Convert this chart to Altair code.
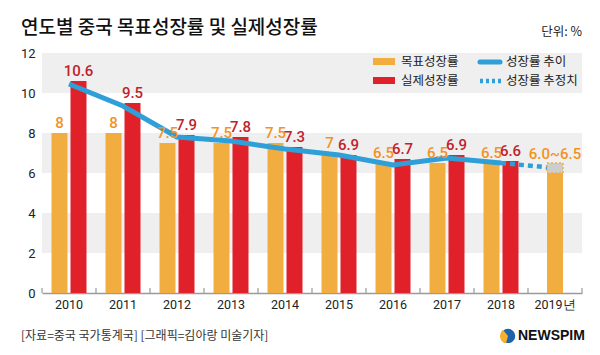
import altair as alt
import pandas as pd

# ---- data ----
years = ["2010", "2011", "2012", "2013", "2014", "2015", "2016", "2017", "2018", "2019년"]
target = [8, 8, 7.5, 7.5, 7.5, 7, 6.5, 6.5, 6.5]
target_labels = ["8", "8", "7.5", "7.5", "7.5", "7", "6.5", "6.5", "6.5"]
actual = [10.6, 9.5, 7.9, 7.8, 7.3, 6.9, 6.7, 6.9, 6.6]
actual_labels = ["10.6", "9.5", "7.9", "7.8", "7.3", "6.9", "6.7", "6.9", "6.6"]
target_2019_low = 6.0
target_2019_high = 6.5
target_2019_label = "6.0~6.5"
trend = [10.45, 9.35, 7.8, 7.6, 7.2, 6.9, 6.4, 6.75, 6.5]
trend_2019 = 6.25
band_lo = [2, 6, 10]
band_hi = [4, 8, 12]
y_ticks = [0, 2, 4, 6, 8, 10, 12]
series_names = ["목표성장률", "실제성장률"]

ORANGE = "#f2ad41"
RED = "#e02129"
ORANGE_TXT = "#f39223"
RED_TXT = "#c1222b"
BLUE = "#2f9fd8"
GRAY_BAND = "#efefef"
KFONT = "Noto Sans CJK KR"
NFONT = "Roboto"

W, H = 540, 240

# ---- tables ----
bars = pd.DataFrame({
    "year": years[:9] * 2,
    "series": [series_names[0]] * 9 + [series_names[1]] * 9,
    "value": target + actual,
    "label": target_labels + actual_labels,
})
bar2019 = pd.DataFrame({"year": [years[9]], "value": [target_2019_low],
                        "hi": [target_2019_high], "label": [target_2019_label]})
trend_df = pd.DataFrame({"year": years[:9], "value": trend})
dotted_df = pd.DataFrame({"year": [years[8], years[9]], "value": [trend[8], trend_2019]})
bands_df = pd.DataFrame({"lo": band_lo, "hi": band_hi})
ticks_df = pd.DataFrame({"year": years})

xscale = alt.Scale(domain=years, paddingInner=0, paddingOuter=0)
xaxis = alt.Axis(title=None, labelAngle=0, ticks=False, domainColor="#9a9a9a", domainWidth=1.5,
                 labelFontSize=12.5, labelColor="#222222", labelFont=NFONT, labelPadding=5)
X = alt.X("year:N", scale=xscale, axis=xaxis)
yscale = alt.Scale(domain=[0, 12], nice=False, zero=True)
yaxis = alt.Axis(title=None, values=y_ticks, grid=False, domain=False, ticks=False,
                 labelFontSize=13, labelColor="#222222", labelFont=NFONT, labelPadding=7)
Y = alt.Y("value:Q", scale=yscale, axis=yaxis)
XO = alt.XOffset("series:N", scale=alt.Scale(domain=series_names, paddingInner=0.158, paddingOuter=0.5))

band_layer = alt.Chart(bands_df).mark_rect(color=GRAY_BAND).encode(
    x=alt.value(0), x2=alt.value(W),
    y=alt.Y("lo:Q", scale=yscale, axis=yaxis), y2="hi:Q")

bar_layer = alt.Chart(bars).mark_bar().encode(
    x=X, xOffset=XO, y=Y,
    color=alt.Color("series:N", scale=alt.Scale(domain=series_names, range=[ORANGE, RED]), legend=None))

bar19 = alt.Chart(bar2019).mark_bar(size=16, color=ORANGE).encode(x=X, y=Y)
box19 = alt.Chart(bar2019).mark_bar(size=16, fill="#cdcdcd", stroke=ORANGE, strokeDash=[2, 2],
                                     strokeWidth=1.5).encode(x=X, y=Y, y2="hi:Q")

tick_layer = alt.Chart(ticks_df).mark_rule(color="#9a9a9a", strokeWidth=1.2).encode(
    x=alt.X("year:N", scale=xscale, axis=xaxis, bandPosition=0),
    y=alt.value(H - 5), y2=alt.value(H))
tick_end = alt.Chart(pd.DataFrame({"a": [0]})).mark_rule(color="#9a9a9a", strokeWidth=1.2).encode(
    x=alt.value(W), y=alt.value(H - 5), y2=alt.value(H))

line_layer = alt.Chart(trend_df).mark_line(color=BLUE, strokeWidth=5).encode(x=X, y=Y)
dotted_layer = alt.Chart(dotted_df).mark_line(color=BLUE, strokeWidth=4.5, strokeDash=[5, 4]).encode(x=X, y=Y)

txt_t = alt.Chart(bars).transform_filter(alt.datum.series == series_names[0]).mark_text(
    dy=-5, baseline="alphabetic", fontSize=15, fontWeight=500, font=NFONT, color=ORANGE_TXT
).encode(x=X, xOffset=XO, y=Y, text="label:N")
txt_a = alt.Chart(bars).transform_filter(alt.datum.series == series_names[1]).mark_text(
    dy=-5, baseline="alphabetic", fontSize=15, fontWeight=500, font=NFONT, color=RED_TXT
).encode(x=X, xOffset=XO, y=Y, text="label:N")
txt19 = alt.Chart(bar2019).mark_text(
    dy=-4, baseline="alphabetic", fontSize=15, fontWeight=500, font=NFONT, color=ORANGE_TXT
).encode(x=X, y=alt.Y("hi:Q", scale=yscale, axis=yaxis), text="label:N")


def label(text, x, y, size, color="#222222", weight="normal", align="left", font=KFONT):
    return alt.Chart(pd.DataFrame({"t": [text]})).mark_text(
        align=align, baseline="middle", fontSize=size, fontWeight=weight, font=font, color=color
    ).encode(x=alt.value(x), y=alt.value(y), text="t:N")


def swatch(x, x2, y, y2, color):
    return alt.Chart(pd.DataFrame({"a": [0]})).mark_rect(color=color).encode(
        x=alt.value(x), x2=alt.value(x2), y=alt.value(y), y2=alt.value(y2))


title = label("연도별 중국 목표성장률 및 실제성장률", -21, -25, 19, color="#111111", weight=500)
unit = label("단위: %", W, -21, 12.5, align="right")
footer = label("[자료=중국 국가통계국] [그래픽=김아랑 미술기자]", -21, 283, 12, color="#333333")

leg_o = swatch(331, 353, 5, 12, ORANGE)
leg_r = swatch(331, 353, 24, 31, RED)
leg_o_t = label(series_names[0], 359, 8.5, 12.5)
leg_r_t = label(series_names[1], 359, 27.5, 12.5)
leg_line = alt.Chart(pd.DataFrame({"a": [0]})).mark_rule(color=BLUE, strokeWidth=5, strokeCap="round").encode(
    x=alt.value(438), x2=alt.value(458), y=alt.value(9))
leg_dot = alt.Chart(pd.DataFrame({"a": [0]})).mark_rule(color=BLUE, strokeWidth=4.5, strokeDash=[3, 3]).encode(
    x=alt.value(438), x2=alt.value(460), y=alt.value(28))
leg_line_t = label("성장률 추이", 464, 8.5, 12.5)
leg_dot_t = label("성장률 추정치", 464, 27.5, 12.5)

logo_c = alt.Chart(pd.DataFrame({"a": [0]})).mark_point(filled=True, shape="circle", size=210,
                                                        color="#1d63ad", opacity=1).encode(
    x=alt.value(466), y=alt.value(283))
logo_a = alt.Chart(pd.DataFrame({"a": [0]})).mark_arc(color="#f2b230", radius=8, radius2=0,
                                                      theta=3.4, theta2=5.6).encode(
    x=alt.value(466), y=alt.value(283))
logo_t = label("NEWSPIM", 476, 283, 14, color="#111111", weight="bold", font="Liberation Sans")

chart = alt.layer(
    band_layer, bar_layer, bar19, tick_layer, tick_end, line_layer, dotted_layer, box19,
    txt_t, txt_a, txt19,
    title, unit, footer,
    leg_o, leg_r, leg_o_t, leg_r_t, leg_line, leg_dot, leg_line_t, leg_dot_t,
    logo_c, logo_a, logo_t,
).properties(
    width=W, height=H,
    padding={"left": 34, "top": 45, "right": 10, "bottom": 50},
    autosize=alt.AutoSizeParams(type="none"),
    background="white",
).configure_view(stroke=None)

chart.save("out.html", embed_options={"renderer": "svg", "actions": False})
